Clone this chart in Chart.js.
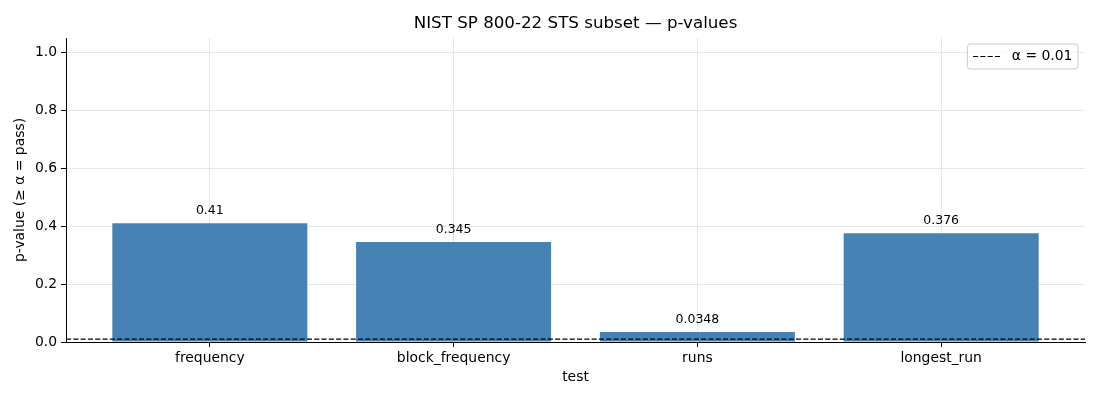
<!DOCTYPE html>
<html>
<head>
<meta charset="utf-8">
<script src="https://cdn.jsdelivr.net/npm/chart.js@4"></script>
<style>
  html, body { margin: 0; padding: 0; background: #fff; }
  #wrap { width: 1100px; height: 400px; }
</style>
</head>
<body>
<div id="wrap"><canvas id="c" width="1100" height="400"></canvas></div>
<script>
const categories = ['frequency', 'block_frequency', 'runs', 'longest_run'];
const pValues = [0.41, 0.345, 0.0348, 0.376];
const alphaLevel = 0.01;
const yTicks = [0, 0.2, 0.4, 0.6, 0.8, 1.0];
const xLimits = [-0.59, 3.59];
const yLimits = [0, 1.05];
const titleText = 'NIST SP 800-22 STS subset — p-values';
const xTitle = 'test';
const yTitle = 'p-value (≥ α = pass)';
const legendText = 'α = ' + alphaLevel;

Chart.defaults.font.family = "'DejaVu Sans', sans-serif";
Chart.defaults.color = '#000';

const gridColor = 'rgba(176,176,176,0.3)';
const FONT_TICK = 13.9;

const axesTitle = {
  id: 'axesTitle',
  afterDraw(chart) {
    const ctx = chart.ctx;
    const ca = chart.chartArea;
    ctx.save();
    ctx.font = "16.7px 'DejaVu Sans', sans-serif";
    ctx.fillStyle = '#000';
    ctx.textAlign = 'center';
    ctx.textBaseline = 'alphabetic';
    ctx.fillText(titleText, (ca.left + ca.right) / 2, ca.top - 10);
    ctx.restore();
  }
};

const barLabels = {
  id: 'barLabels',
  afterDatasetsDraw(chart) {
    const idx = chart.data.datasets.findIndex(d => d.type === 'bar');
    const meta = chart.getDatasetMeta(idx);
    const ctx = chart.ctx;
    ctx.save();
    ctx.font = "12.5px 'DejaVu Sans', sans-serif";
    ctx.fillStyle = '#000';
    ctx.textAlign = 'center';
    ctx.textBaseline = 'bottom';
    meta.data.forEach((bar, i) => {
      ctx.fillText(String(pValues[i]), bar.x, bar.y - 6);
    });
    ctx.restore();
  }
};

const boxLegend = {
  id: 'boxLegend',
  afterDraw(chart) {
    const ctx = chart.ctx;
    const ca = chart.chartArea;
    ctx.save();
    ctx.font = FONT_TICK + "px 'DejaVu Sans', sans-serif";
    const tw = ctx.measureText(legendText).width;
    const pad = 5.6, hl = 27.8, gap = 11;
    const w = pad + hl + gap + tw + pad;
    const h = 25;
    const right = ca.right - 7;
    const top = ca.top + 6;
    const left = right - w;
    ctx.beginPath();
    ctx.roundRect(left, top, w, h, 3);
    ctx.fillStyle = 'rgba(255,255,255,0.8)';
    ctx.fill();
    ctx.strokeStyle = '#cccccc';
    ctx.lineWidth = 1;
    ctx.stroke();
    const cy = top + h / 2;
    ctx.beginPath();
    ctx.setLineDash([5.1, 2.2]);
    ctx.strokeStyle = '#000';
    ctx.lineWidth = 1.2;
    ctx.moveTo(left + pad, cy);
    ctx.lineTo(left + pad + hl, cy);
    ctx.stroke();
    ctx.setLineDash([]);
    ctx.fillStyle = '#000';
    ctx.textAlign = 'left';
    ctx.textBaseline = 'middle';
    ctx.fillText(legendText, left + pad + hl + gap, cy);
    ctx.restore();
  }
};

new Chart(document.getElementById('c'), {
  data: {
    datasets: [
      {
        type: 'line',
        label: legendText,
        data: xLimits.map(x => ({ x: x, y: alphaLevel })),
        borderColor: '#000',
        borderWidth: 1.2,
        borderDash: [5.1, 2.2],
        pointRadius: 0,
        fill: false,
        order: 0
      },
      {
        type: 'bar',
        label: 'p-value',
        data: categories.map((c, i) => ({ x: i, y: pValues[i] })),
        backgroundColor: '#4682B4',
        borderWidth: 0,
        barPercentage: 0.8,
        categoryPercentage: 1.0,
        order: 1
      }
    ]
  },
  options: {
    responsive: false,
    animation: false,
    devicePixelRatio: 1,
    layout: { padding: { left: 0, right: 15, top: 38, bottom: 0 } },
    plugins: {
      legend: { display: false },
      tooltip: { enabled: false },
      title: { display: false }
    },
    scales: {
      x: {
        type: 'linear',
        min: xLimits[0],
        max: xLimits[1],
        offset: false,
        z: 1,
        afterBuildTicks(scale) {
          scale.ticks = categories.map((c, i) => ({ value: i }));
        },
        afterFit(scale) { scale.height = 58; },
        ticks: {
          font: { size: FONT_TICK },
          color: '#000',
          padding: 3,
          maxRotation: 0,
          autoSkip: false,
          callback: (v) => categories[Math.round(v)]
        },
        grid: {
          color: gridColor,
          offset: false,
          drawTicks: true,
          tickLength: 5,
          tickColor: '#000',
          tickWidth: 1
        },
        border: { display: true, color: '#000', width: 1 },
        title: {
          display: true,
          text: xTitle,
          font: { size: FONT_TICK },
          color: '#000',
          padding: { top: 0, bottom: 14.6 }
        }
      },
      y: {
        type: 'linear',
        min: yLimits[0],
        max: yLimits[1],
        z: 1,
        afterBuildTicks(scale) {
          scale.ticks = yTicks.map(v => ({ value: v }));
        },
        afterFit(scale) { scale.width = 66; },
        ticks: {
          font: { size: FONT_TICK },
          color: '#000',
          padding: 4,
          callback: (v) => Number(v).toFixed(1)
        },
        grid: {
          color: gridColor,
          drawTicks: true,
          tickLength: 5,
          tickColor: '#000',
          tickWidth: 1
        },
        border: { display: true, color: '#000', width: 1 },
        title: {
          display: true,
          text: yTitle,
          font: { size: FONT_TICK },
          color: '#000',
          padding: { top: 12, bottom: 0 }
        }
      }
    }
  },
  plugins: [barLabels, boxLegend, axesTitle]
});
</script>
</body>
</html>
